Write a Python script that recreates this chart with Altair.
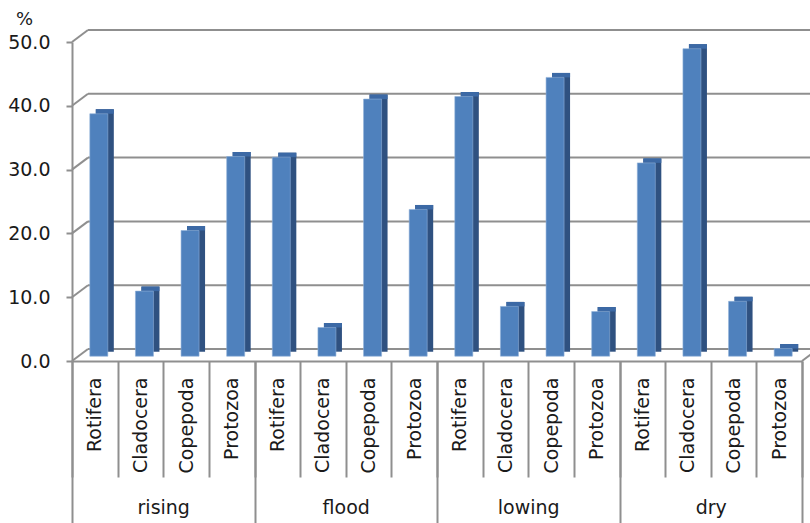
import altair as alt
import pandas as pd

# ---- data ----
GROUPS = ["rising", "flood", "lowing", "dry"]
TAXA = ["Rotifera", "Cladocera", "Copepoda", "Protozoa"]
RISING = [38.0, 10.2, 19.7, 31.3]
FLOOD = [31.2, 4.5, 40.3, 23.0]
LOWING = [40.7, 7.8, 43.7, 7.0]
DRY = [30.3, 48.2, 8.6, 1.2]
Y_TICKS = [0, 10, 20, 30, 40, 50]

# ---- style ----
W, H = 730, 319
FONT = "DejaVu Sans"
FS = 19
TEXT = "#1a1a1a"
LINE = "#8f8f8f"
FRONT = "#4F81BD"
SIDE = "#2F5180"
TOP = "#3C69A5"
DX, DY = 16, 12  # back-wall depth offset in px

rows = []
for g, vals in zip(GROUPS, [RISING, FLOOD, LOWING, DRY]):
    for t, v in zip(TAXA, vals):
        rows.append({"group": g, "taxon": t, "key": f"{g}|{t}", "value": v})
df = pd.DataFrame(rows)
keys = list(df["key"])
tick_df = pd.DataFrame({"v": Y_TICKS})
group_df = pd.DataFrame({"group": GROUPS})

y_scale = alt.Scale(domain=[0, 50], nice=False, zero=True)
y_axis = alt.Axis(
    values=Y_TICKS, format=".1f", grid=False,
    domainColor=LINE, domainWidth=2, tickColor=LINE, tickWidth=2, tickSize=6,
    labelFont=FONT, labelFontSize=FS, labelColor=TEXT, labelPadding=16,
    title="%", titleAngle=0, titleX=-48, titleY=-23, titleAlign="center",
    titleBaseline="middle", titleFont=FONT, titleFontSize=18,
    titleFontWeight="normal", titleColor=TEXT,
)

x_axis = alt.Axis(
    orient="bottom", title=None, domain=True, domainColor=LINE, domainWidth=2,
    ticks=True, tickBand="extent", tickSize=116, tickColor=LINE, tickWidth=2,
    labelAngle=-90, labelAlign="right", labelBaseline="middle", labelPadding=-100,
    labelExpr="split(datum.label, '|')[1]",
    labelFont=FONT, labelFontSize=FS, labelColor=TEXT,
)
x_enc = alt.X("key:N", sort=keys,
              scale=alt.Scale(type="band", paddingInner=0, paddingOuter=0),
              axis=x_axis)

def yv(field):
    return alt.Y(field, scale=y_scale, axis=y_axis)

# back-wall gridlines
grid = alt.Chart(tick_df).mark_rule(color=LINE, strokeWidth=2, yOffset=-DY, y2Offset=-DY).encode(
    y=yv("v:Q"), x=alt.value(DX), x2=alt.value(W + 30)
)
# left-wall diagonals
diag = alt.Chart(tick_df).mark_rule(color=LINE, strokeWidth=2, y2Offset=-DY).encode(
    y=yv("v:Q"), y2=alt.Y2("v:Q"), x=alt.value(0), x2=alt.value(DX)
)
# right floor edge
floor_edge = alt.Chart(tick_df.head(1)).mark_rule(color=LINE, strokeWidth=2).encode(
    x=alt.value(W), x2=alt.value(W + DX), y=alt.value(H), y2=alt.value(H - DY)
)

base = alt.Chart(df)
side = base.mark_bar(width=18, xOffset=10, yOffset=-9.3, y2Offset=-9.3, color=SIDE).encode(
    x=x_enc, y=yv("value:Q")
)
top = base.mark_bar(width=18, xOffset=10, yOffset=-9.3, y2Offset=-4.8, color=TOP).encode(
    x=x_enc, y=yv("value:Q"), y2=alt.Y2("value:Q")
)
front = base.mark_bar(width=18, xOffset=4, yOffset=-4.8, y2Offset=-4.8, color=FRONT,
                      stroke="#8fb0d8", strokeWidth=0.6).encode(
    x=x_enc, y=yv("value:Q")
)
bars = alt.layer(side, top, front)

group_layer = alt.Chart(group_df).mark_point(opacity=0).encode(
    x=alt.X("group:N", sort=GROUPS,
            scale=alt.Scale(type="band", paddingInner=0, paddingOuter=0),
            axis=alt.Axis(orient="bottom", title=None, domain=False,
                          ticks=True, tickBand="extent", tickSize=162,
                          tickColor=LINE, tickWidth=2, labelAngle=0,
                          labelAlign="center", labelBaseline="top",
                          labelPadding=-25, labelFont=FONT, labelFontSize=FS,
                          labelColor=TEXT))
)

chart = alt.layer(grid, diag, floor_edge, bars, group_layer).resolve_scale(
    x="independent"
).properties(
    width=W, height=H,
    padding={"left": 72, "top": 42, "right": 8, "bottom": 162},
    autosize=alt.AutoSizeParams(type="none"),
    background="white",
).configure_view(stroke=None)

chart.save("out.html", embed_options={"renderer": "svg", "actions": False})
